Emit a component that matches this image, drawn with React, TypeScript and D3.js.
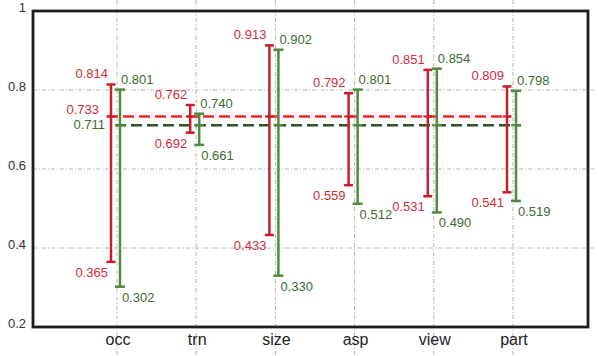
import React from 'react';
import * as d3 from 'd3';

const width = 598;
const height = 356;

const categories = ['occ', 'trn', 'size', 'asp', 'view', 'part'];
const redHigh = [0.814, 0.762, 0.913, 0.792, 0.851, 0.809];
const redLow = [0.365, 0.692, 0.433, 0.559, 0.531, 0.541];
const greenHigh = [0.801, 0.740, 0.902, 0.801, 0.854, 0.798];
const greenLow = [0.302, 0.661, 0.330, 0.512, 0.490, 0.519];
const redMean = 0.733;
const greenMean = 0.711;
const yTicks = [0.2, 0.4, 0.6, 0.8, 1];
const yTickLabels = ['0.2', '0.4', '0.6', '0.8', '1'];
const gridValues = [0.4, 0.6, 0.8];

const box = { left: 33, right: 588, top: 11, bottom: 327 };

const RED = '#c81e2a';
const RED_TEXT = '#d02c38';
const RED_DASH = '#ee2a2a';
const GREEN = '#508a40';
const GREEN_TEXT = '#3e6a30';
const GREEN_DASH = '#2f5226';
const font = '"Liberation Sans", Arial, sans-serif';

const fmt = d3.format('.3f');

export default function App() {
  const x = d3.scalePoint<string>().domain(categories).range([117, 513]);
  const y = d3.scaleLinear().domain([0.2, 1]).range([box.bottom, box.top]);

  const redX = (c: string) => (x(c) as number) - 6;
  const greenX = (c: string) => (x(c) as number) + 3;

  // one error bar per category and series
  const bars = categories.flatMap((c, i) => [
    { key: 'r' + c, cx: redX(c), hi: redHigh[i], lo: redLow[i], mean: redMean, color: RED, text: RED_TEXT, half: 4.5, side: -1 },
    { key: 'g' + c, cx: greenX(c), hi: greenHigh[i], lo: greenLow[i], mean: greenMean, color: GREEN, text: GREEN_TEXT, half: 5, side: 1 },
  ]);

  const first = categories[0];
  const last = categories[categories.length - 1];

  return (
    <svg width={width} height={height} style={{ position: 'absolute', left: 0, top: 0, background: '#fff' }}>
      {/* grid */}
      {categories.map(c => (
        <line key={c} x1={x(c)} x2={x(c)} y1={0} y2={height} stroke="#b4b4b4" strokeWidth={1} strokeDasharray="4,2,1,2" />
      ))}
      {gridValues.map(v => (
        <line key={v} x1={box.left} x2={594} y1={y(v)} y2={y(v)} stroke="#b4b4b4" strokeWidth={1} strokeDasharray="4,2,1,2" />
      ))}

      {/* mean lines */}
      <line x1={redX(first) - 4} x2={redX(last) + 4} y1={y(redMean)} y2={y(redMean)} stroke={RED_DASH} strokeWidth={2.5} strokeDasharray="11,5" />
      <line x1={greenX(first) - 5} x2={greenX(last) + 5} y1={y(greenMean)} y2={y(greenMean)} stroke={GREEN_DASH} strokeWidth={2.5} strokeDasharray="11,5" />

      {/* error bars */}
      {bars.map(b => (
        <g key={b.key}>
          <line x1={b.cx} x2={b.cx} y1={y(b.hi)} y2={y(b.lo)} stroke={b.color} strokeWidth={2.5} />
          <line x1={b.cx - b.half} x2={b.cx + b.half} y1={y(b.hi)} y2={y(b.hi)} stroke={b.color} strokeWidth={2.5} />
          <line x1={b.cx - b.half} x2={b.cx + b.half} y1={y(b.lo)} y2={y(b.lo)} stroke={b.color} strokeWidth={2.5} />
          <line x1={b.cx - b.half} x2={b.cx + b.half} y1={y(b.mean)} y2={y(b.mean)} stroke={b.color} strokeWidth={2} />
          <text
            x={b.side < 0 ? b.cx - 3 : b.cx + 1}
            y={y(b.hi) - 6}
            textAnchor={b.side < 0 ? 'end' : 'start'}
            fill={b.text}
            fontFamily={font}
            fontSize={13}
          >
            {fmt(b.hi)}
          </text>
          <text
            x={b.side < 0 ? b.cx - 3 : b.cx + 2}
            y={y(b.lo) + 15}
            textAnchor={b.side < 0 ? 'end' : 'start'}
            fill={b.text}
            fontFamily={font}
            fontSize={13}
          >
            {fmt(b.lo)}
          </text>
        </g>
      ))}

      {/* mean labels */}
      <text x={redX(first) - 12} y={y(redMean) - 2} textAnchor="end" fill={RED_TEXT} fontFamily={font} fontSize={13}>
        {fmt(redMean)}
      </text>
      <text x={redX(first) - 6} y={y(greenMean) + 4} textAnchor="end" fill={GREEN_TEXT} fontFamily={font} fontSize={13}>
        {fmt(greenMean)}
      </text>

      {/* frame */}
      <rect x={box.left} y={box.top} width={box.right - box.left} height={box.bottom - box.top} fill="none" stroke="#1e1e1e" strokeWidth={2.8} />

      {/* y tick labels */}
      {yTicks.map((v, i) => (
        <text key={v} x={26} y={y(v) - 2} textAnchor="end" dominantBaseline="middle" fill="#333" fontFamily={font} fontSize={13}>
          {yTickLabels[i]}
        </text>
      ))}

      {/* category labels */}
      {categories.map(c => (
        <text key={c} x={(x(c) as number) + 1} y={345} textAnchor="middle" fill="#222" fontFamily={font} fontSize={16}>
          {c}
        </text>
      ))}
    </svg>
  );
}
